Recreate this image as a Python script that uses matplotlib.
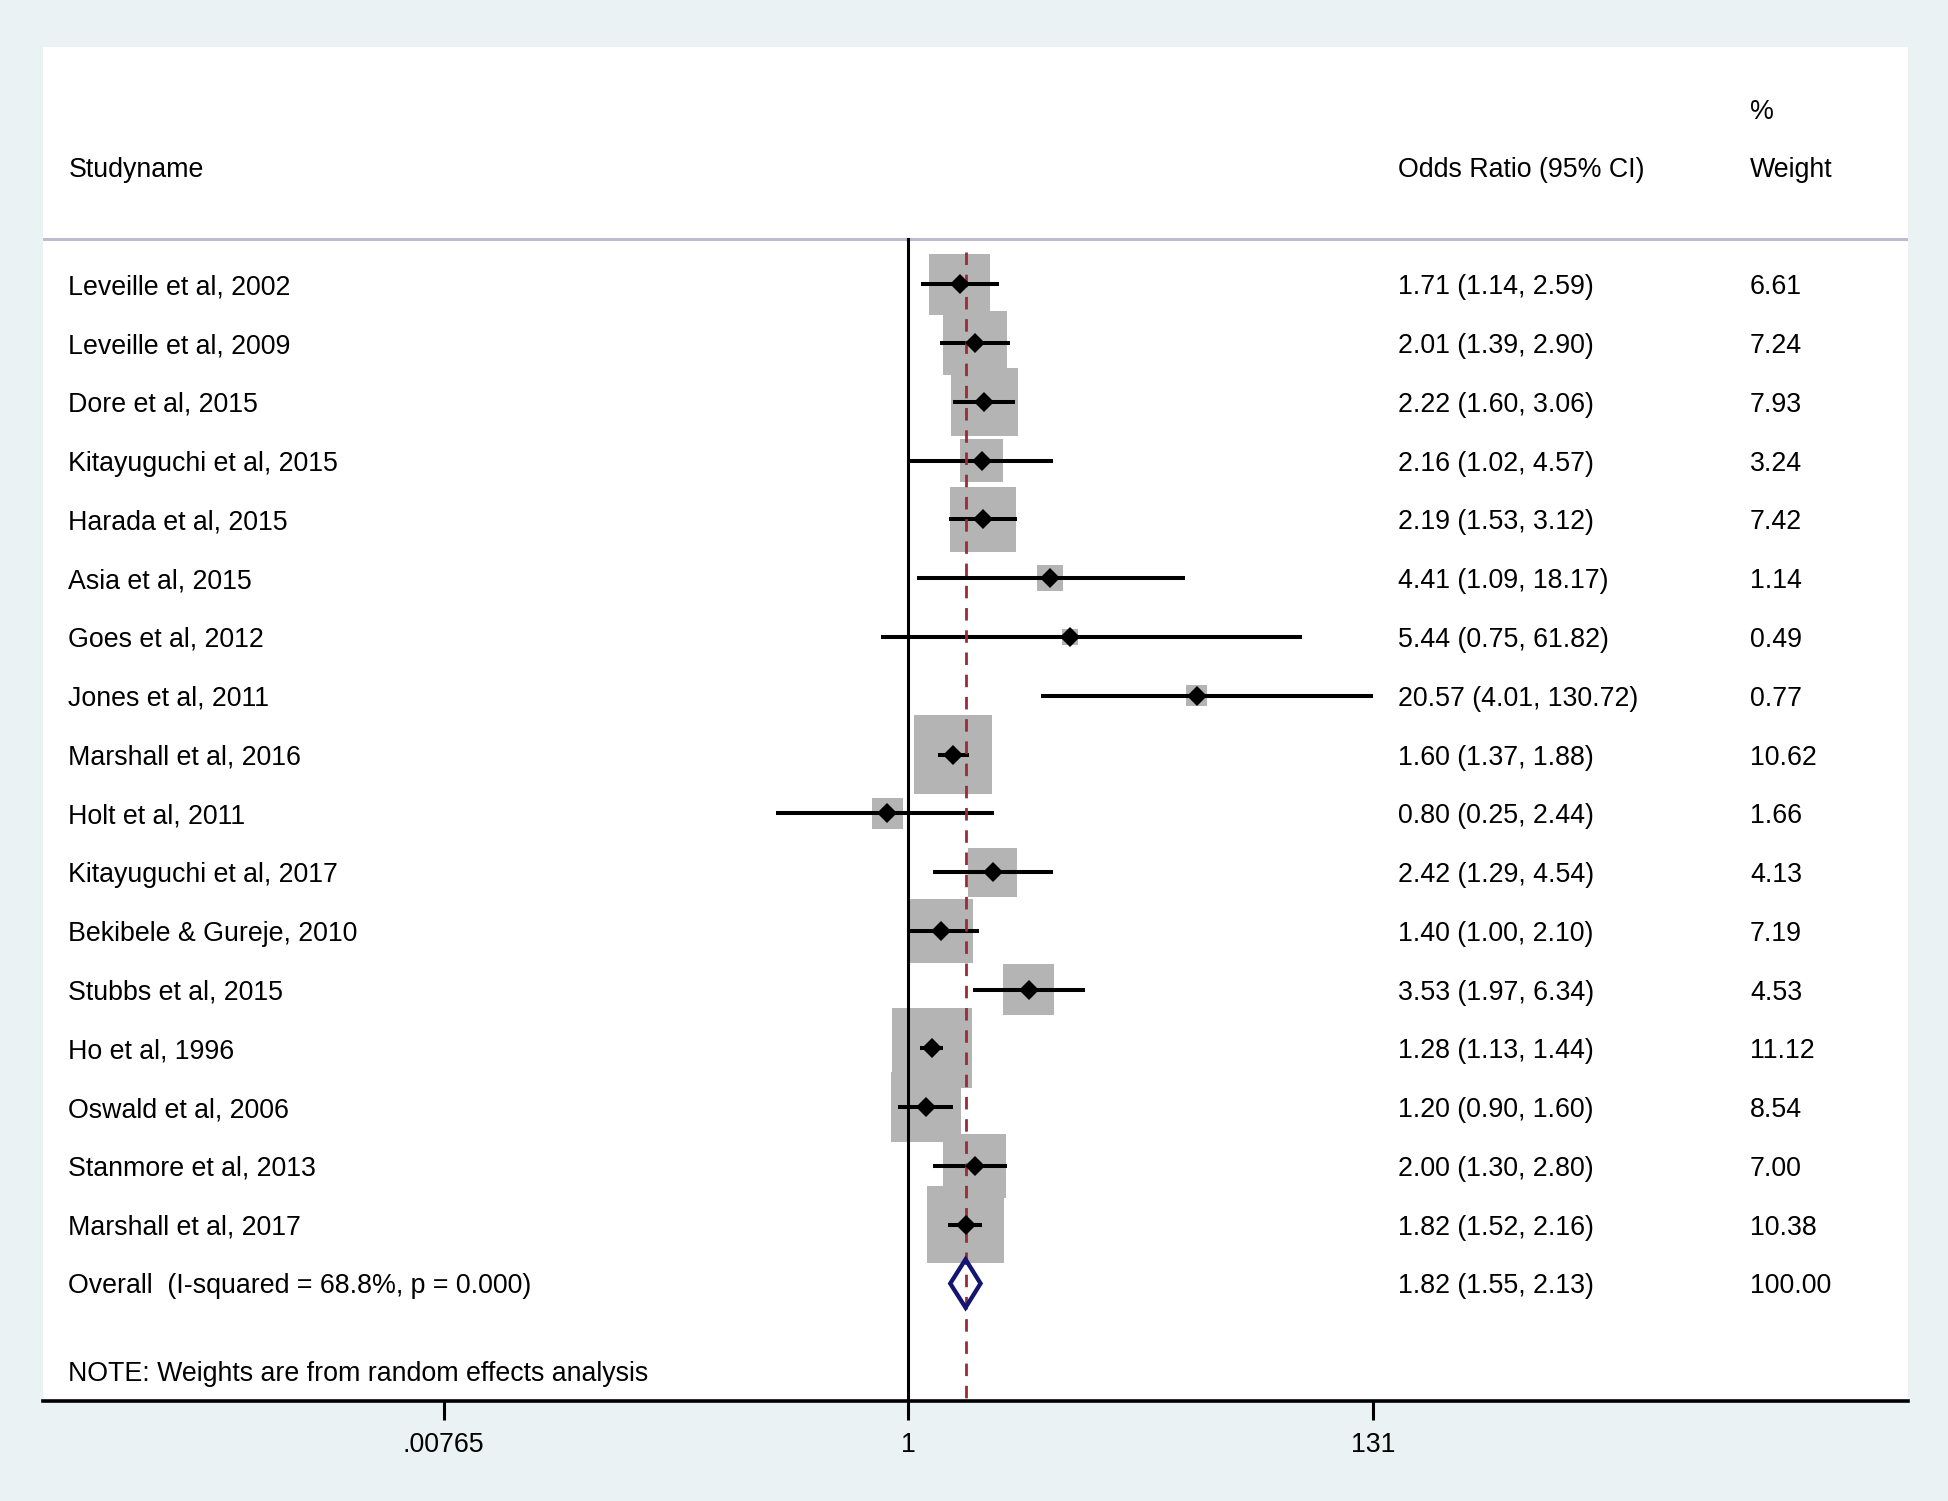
import numpy as np
import matplotlib
matplotlib.use("Agg")
import matplotlib.pyplot as plt
from matplotlib.patches import Polygon
import matplotlib.transforms as mtransforms

studies = ["Leveille et al, 2002", "Leveille et al, 2009", "Dore et al, 2015",
           "Kitayuguchi et al, 2015", "Harada et al, 2015", "Asia et al, 2015",
           "Goes et al, 2012", "Jones et al, 2011", "Marshall et al, 2016",
           "Holt et al, 2011", "Kitayuguchi et al, 2017", "Bekibele & Gureje, 2010",
           "Stubbs et al, 2015", "Ho et al, 1996", "Oswald et al, 2006",
           "Stanmore et al, 2013", "Marshall et al, 2017"]
odds = [1.71, 2.01, 2.22, 2.16, 2.19, 4.41, 5.44, 20.57, 1.60, 0.80, 2.42,
        1.40, 3.53, 1.28, 1.20, 2.00, 1.82]
lower = [1.14, 1.39, 1.60, 1.02, 1.53, 1.09, 0.75, 4.01, 1.37, 0.25, 1.29,
         1.00, 1.97, 1.13, 0.90, 1.30, 1.52]
upper = [2.59, 2.90, 3.06, 4.57, 3.12, 18.17, 61.82, 130.72, 1.88, 2.44, 4.54,
         2.10, 6.34, 1.44, 1.60, 2.80, 2.16]
weights = [6.61, 7.24, 7.93, 3.24, 7.42, 1.14, 0.49, 0.77, 10.62, 1.66, 4.13,
           7.19, 4.53, 11.12, 8.54, 7.00, 10.38]
overall_label = "Overall  (I-squared = 68.8%, p = 0.000)"
overall = (1.82, 1.55, 2.13)
overall_weight = 100.00
tick_vals = [0.00765, 1, 131]
tick_labels = [".00765", "1", "131"]

plt.rcParams["font.family"] = ["Liberation Sans", "DejaVu Sans"]
FS = 19.3
BG = "#eaf2f3"

fig = plt.figure(figsize=(19.49, 15.01), dpi=100, facecolor=BG)
ax = fig.add_axes([0.0223, 0.0666, 0.9566, 0.9021])
ax.set_facecolor("white")
ax.set_xscale("log")
ax.set_xlim(np.exp(-9.07), np.exp(10.48))
ax.set_ylim(19.0, -4.04)

n = len(studies)
ys = np.arange(n)
y_over = n
dy = 0.05  # text sits a touch below the marker row

# weight boxes, area ~ weight
ax.scatter(odds, ys, s=np.array(weights) * 299.0, marker="s", color="#b4b4b4",
           linewidths=0, zorder=2)
# confidence intervals
for y, lo, hi in zip(ys, lower, upper):
    ax.plot([lo, hi], [y, y], color="black", lw=2.9, solid_capstyle="butt", zorder=3)
ax.plot(odds, ys, "D", color="black", ms=10, mew=0, zorder=4)

# null line and overall estimate line
ax.plot([1, 1], [-0.78, 19.0], color="black", lw=2.2, zorder=3)
ax.plot([overall[0]] * 2, [-0.55, 19.0], color="#9a2a35", lw=2.0,
        dashes=(4.5, 3.5), zorder=3)

# overall diamond
est, lo, hi = overall
dia = Polygon([(lo, y_over), (est, y_over - 0.41), (hi, y_over), (est, y_over + 0.41)],
              closed=True, fill=False, edgecolor="#141472", lw=3.1, zorder=5,
              joinstyle="miter")
ax.add_patch(dia)

# header separator
ax.axhline(-0.78, color="#bcbccf", lw=2.2, zorder=1)

# text columns
tr = mtransforms.blended_transform_factory(ax.transAxes, ax.transData)
x_name, x_or, x_w = 0.0134, 0.7267, 0.9153
kw = dict(transform=tr, fontsize=FS, va="center")
ax.text(x_name, -2 + dy, "Studyname", **kw)
ax.text(x_or, -2 + dy, "Odds Ratio (95% CI)", **kw)
ax.text(x_w, -3 + 0.07, "%", **kw)
ax.text(x_w, -2 + dy, "Weight", **kw)
for y, name, o, l, h, w in zip(ys, studies, odds, lower, upper, weights):
    ax.text(x_name, y + dy, name, **kw)
    ax.text(x_or, y + dy, f"{o:.2f} ({l:.2f}, {h:.2f})", **kw)
    ax.text(x_w, y + dy, f"{w:.2f}", **kw)
ax.text(x_name, y_over + dy, overall_label, **kw)
ax.text(x_or, y_over + dy, f"{est:.2f} ({lo:.2f}, {hi:.2f})", **kw)
ax.text(x_w, y_over + dy, f"{overall_weight:.2f}", **kw)
ax.text(x_name, 18.49 + dy, "NOTE: Weights are from random effects analysis", **kw)

# axes styling
for side in ["top", "left", "right"]:
    ax.spines[side].set_visible(False)
ax.spines["bottom"].set_linewidth(2.6)
ax.set_yticks([])
ax.set_xticks(tick_vals)
ax.set_xticklabels(tick_labels)
ax.minorticks_off()
ax.tick_params(axis="x", direction="out", length=14, width=2.2, pad=8,
               labelsize=FS)

fig.savefig("out.png", dpi=100, facecolor=BG)
